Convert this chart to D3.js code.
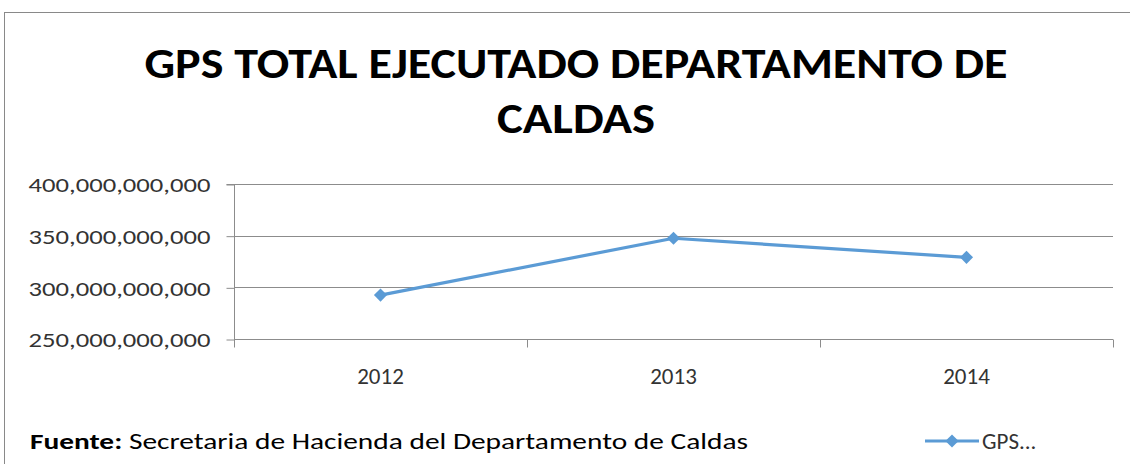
<!DOCTYPE html>
<html>
<head>
<meta charset="utf-8">
<script src="https://cdn.jsdelivr.net/npm/d3@7"></script>
<style>
body { margin: 0; background: #fff; }
svg { display: block; }
</style>
</head>
<body>
<div id="chart"></div>
<script>
let svgWidth = 1130;
let svgHeight = 464;

// data
let years = ["2012", "2013", "2014"];
let gpsValues = [292.5e9, 347.5e9, 329e9];
let yTicks = [250e9, 300e9, 350e9, 400e9];
let titleLines = ["GPS TOTAL EJECUTADO DEPARTAMENTO DE", "CALDAS"];
let seriesName = "GPS...";

let font = "Carlito, Calibri, Lato, sans-serif";
let lineColor = "#5b9bd5";
let gridColor = "#8c8c8c";

let plot = { left: 234, right: 1113, top: 184, bottom: 339 };

let svg = d3.select("#chart")
  .append("svg")
  .attr("width", svgWidth)
  .attr("height", svgHeight);

// chart frame
svg.append("rect")
  .attr("x", 4.5)
  .attr("y", 12.5)
  .attr("width", 1140)
  .attr("height", 470)
  .attr("fill", "#fff")
  .attr("stroke", "#898989")
  .attr("stroke-width", 1);

// title
svg.append("text")
  .attr("x", 576)
  .attr("y", 78)
  .attr("text-anchor", "middle")
  .attr("font-family", font)
  .attr("font-weight", "bold")
  .attr("font-size", 42)
  .attr("textLength", 863)
  .attr("lengthAdjust", "spacingAndGlyphs")
  .attr("fill", "#000")
  .text(titleLines[0]);

svg.append("text")
  .attr("x", 576)
  .attr("y", 133)
  .attr("text-anchor", "middle")
  .attr("font-family", font)
  .attr("font-weight", "bold")
  .attr("font-size", 42)
  .attr("textLength", 158)
  .attr("lengthAdjust", "spacingAndGlyphs")
  .attr("fill", "#000")
  .text(titleLines[1]);

// scales
let x = d3.scaleBand()
  .domain(years)
  .range([plot.left, plot.right]);

let y = d3.scaleLinear()
  .domain([250e9, 400e9])
  .range([plot.bottom, plot.top]);

// gridlines
svg.append("g")
  .selectAll("line")
  .data(yTicks.slice(1))
  .enter()
  .append("line")
  .attr("x1", plot.left)
  .attr("x2", plot.right)
  .attr("y1", d => Math.round(y(d)) + 0.5)
  .attr("y2", d => Math.round(y(d)) + 0.5)
  .attr("stroke", gridColor);

// y axis
let leftAxis = d3.axisLeft(y)
  .tickValues(yTicks)
  .tickSize(8)
  .tickPadding(16)
  .tickFormat(d3.format(","));

let yAxis = svg.append("g")
  .attr("transform", `translate(${plot.left + 0.5}, 0.5)`)
  .call(leftAxis);

yAxis.select(".domain")
  .attr("d", `M-8,${plot.top}H0V${plot.bottom + 8}`)
  .attr("stroke", gridColor);
yAxis.selectAll(".tick line").attr("stroke", gridColor);
yAxis.selectAll(".tick text")
  .attr("font-family", font)
  .attr("font-size", 21)
  .attr("fill", "#333")
  .attr("textLength", 182)
  .attr("lengthAdjust", "spacingAndGlyphs")
  .attr("dy", "0.35em");

// x axis
let bottomAxis = d3.axisBottom(x)
  .tickSize(0)
  .tickPadding(28);

let xAxis = svg.append("g")
  .attr("transform", `translate(0, ${plot.bottom + 0.5})`)
  .call(bottomAxis);

xAxis.select(".domain")
  .attr("d", `M${plot.left},0H${plot.right}`)
  .attr("stroke", gridColor);
xAxis.selectAll(".tick text")
  .attr("font-family", font)
  .attr("font-size", 23)
  .attr("fill", "#333");

// category separator ticks
xAxis.selectAll(".sep")
  .data(years)
  .enter()
  .append("line")
  .attr("x1", d => Math.round(x(d) + x.bandwidth()) + 0.5)
  .attr("x2", d => Math.round(x(d) + x.bandwidth()) + 0.5)
  .attr("y1", 0)
  .attr("y2", 8)
  .attr("stroke", gridColor);

// series line
let line = d3.line()
  .x((d, i) => x(years[i]) + x.bandwidth() / 2)
  .y(d => y(d));

svg.append("path")
  .datum(gpsValues)
  .attr("d", line)
  .attr("fill", "none")
  .attr("stroke", lineColor)
  .attr("stroke-width", 3.2)
  .attr("stroke-linejoin", "round");

let diamond = d3.symbol().type(d3.symbolDiamond2).size(110);

svg.append("g")
  .selectAll("path")
  .data(gpsValues)
  .enter()
  .append("path")
  .attr("d", diamond)
  .attr("transform", (d, i) => `translate(${x(years[i]) + x.bandwidth() / 2}, ${y(d)})`)
  .attr("fill", lineColor);

// source note
let note = svg.append("text")
  .attr("x", 30)
  .attr("y", 449)
  .attr("font-family", font)
  .attr("font-size", 23)
  .attr("fill", "#000")
  .attr("textLength", 718)
  .attr("lengthAdjust", "spacingAndGlyphs");
note.append("tspan").attr("font-weight", "bold").text("Fuente:");
note.append("tspan").text(" Secretaria de Hacienda del Departamento de Caldas");

// legend
let legend = svg.append("g").attr("transform", "translate(925, 441)");
legend.append("line")
  .attr("x1", 0)
  .attr("x2", 54)
  .attr("stroke", lineColor)
  .attr("stroke-width", 3.2);
legend.append("path")
  .attr("d", diamond)
  .attr("transform", "translate(27, 0)")
  .attr("fill", lineColor);
legend.append("text")
  .attr("x", 57)
  .attr("y", 8)
  .attr("font-family", font)
  .attr("font-size", 23)
  .attr("fill", "#333")
  .text(seriesName);
</script>
</body>
</html>
